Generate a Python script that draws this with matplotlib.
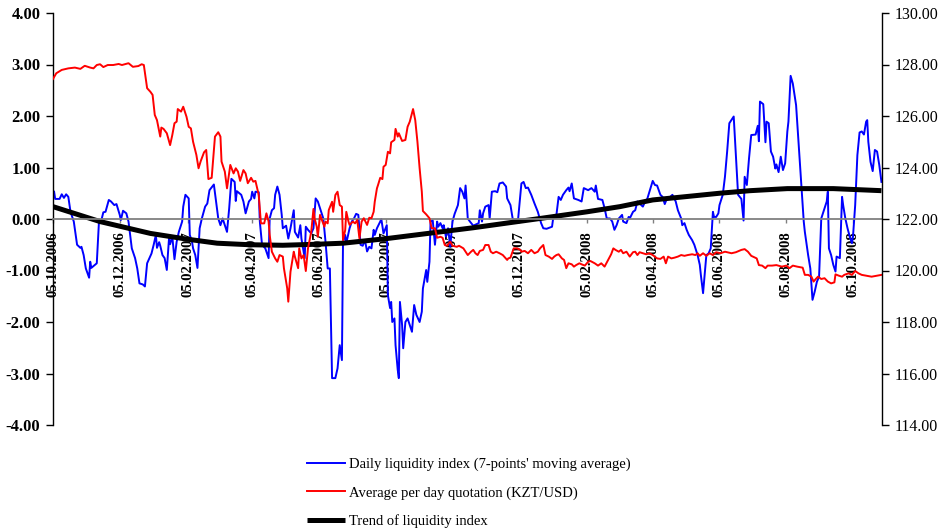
import numpy as np
import pandas as pd
import matplotlib
matplotlib.use('Agg')
import matplotlib.pyplot as plt
from matplotlib.ticker import FormatStrFormatter

# Fecha inicial del eje x; las series se guardan como dias desde esta fecha
start_date = '05.10.2006'

# Indice diario de liquidez (media movil de 7 puntos), eje izquierdo
liq_days = [1, 2, 6, 8, 10, 12, 14, 16, 19, 22, 25, 26, 28, 30, 33, 34, 35, 40, 42, 44,
            46, 48, 51, 53, 56, 58, 61, 62, 64, 67, 69, 72, 75, 77, 79, 82, 84, 86, 90, 92,
            94, 95, 97, 98, 100, 102, 104, 106, 107, 109, 111, 113, 115, 118, 119, 121, 124, 125, 127, 128,
            130, 132, 134, 136, 139, 141, 143, 147, 149, 151, 153, 155, 159, 161, 163, 166, 167, 168, 172, 174,
            176, 179, 181, 182, 184, 185, 188, 189, 191, 194, 197, 198, 200, 202, 203, 205, 207, 209, 210, 213,
            215, 217, 220, 221, 224, 226, 227, 230, 231, 233, 236, 238, 240, 242, 245, 247, 249, 251, 253, 255,
            258, 260, 262, 264, 265, 267, 268, 271, 273, 275, 277, 279, 281, 283, 285, 287, 289, 291, 293, 294,
            296, 299, 300, 302, 305, 306, 308, 309, 310, 312, 313, 315, 316, 317, 319, 320, 322, 324, 326, 328,
            330, 332, 335, 337, 338, 341, 342, 344, 345, 347, 349, 351, 352, 354, 356, 357, 359, 361, 363, 365,
            367, 370, 372, 374, 376, 377, 379, 381, 384, 387, 389, 390, 392, 393, 395, 398, 399, 401, 404, 406,
            408, 411, 414, 415, 418, 420, 422, 425, 428, 430, 432, 434, 437, 440, 443, 446, 448, 451, 456, 457,
            460, 462, 464, 466, 468, 469, 471, 472, 474, 476, 480, 483, 485, 489, 492, 495, 496, 498, 502, 504,
            506, 509, 511, 513, 515, 517, 520, 521, 524, 526, 527, 530, 532, 534, 536, 539, 541, 543, 545, 546,
            548, 550, 552, 555, 557, 559, 561, 564, 566, 569, 571, 574, 575, 577, 579, 581, 584, 586, 588, 589,
            591, 592, 594, 596, 597, 599, 601, 603, 604, 606, 608, 609, 612, 614, 616, 618, 621, 622, 624, 626,
            629, 631, 632, 634, 636, 638, 642, 644, 645, 646, 649, 651, 652, 654, 656, 658, 660, 661, 663, 665,
            667, 669, 671, 672, 674, 676, 679, 681, 683, 686, 687, 690, 692, 694, 696, 698, 700, 702, 705, 707,
            708, 709, 711, 713, 715, 716, 719, 721, 722, 724, 726, 728, 730, 731, 733, 735, 737, 739, 741, 743,
            744, 745, 747, 749, 751, 753, 755, 757]
liq_values = [0.53, 0.39, 0.39, 0.48, 0.41, 0.48, 0.43, 0.14, -0.05, -0.50, -0.56, -0.54, -0.70, -0.96, -1.14, -0.83, -0.95, -0.86, -0.05, -0.04,
              0.13, 0.14, 0.37, 0.34, 0.27, 0.29, 0.08, -0.02, 0.16, 0.11, -0.05, -0.57, -0.76, -0.96, -1.25, -1.27, -1.31, -0.86, -0.67, -0.50,
              -0.31, -0.56, -0.45, -0.52, -0.70, -0.76, -0.99, -0.38, -0.49, -0.34, -0.78, -0.44, -0.25, -0.05, 0.24, 0.47, 0.40, -0.31, -0.44, -0.57,
              -0.70, -0.95, -0.18, 0.01, 0.24, 0.30, 0.56, 0.67, 0.34, 0.01, -0.12, 0.01, -0.25, 0.21, 0.78, 0.72, 0.35, 0.54, 0.47, 0.34,
              0.11, 0.34, 0.39, 0.53, 0.40, 0.53, 0.52, -0.05, -0.50, -0.57, -0.76, 0.01, 0.17, 0.21, 0.47, 0.63, 0.47, 0.08, -0.18, -0.13,
              -0.38, -0.18, 0.17, -0.25, -0.36, -0.12, -0.38, -0.76, -0.15, -0.21, -0.28, -0.18, 0.40, 0.34, 0.14, 0.01, -0.44, -0.96, -0.96, -3.09,
              -3.09, -2.90, -2.45, -2.74, -0.44, -0.31, -0.47, -0.18, -0.05, 0.01, 0.10, 0.08, -0.50, -0.52, -0.41, -0.63, -0.54, -0.57, -0.21, -0.31,
              -0.18, -0.05, 0.00, -0.28, -0.12, -1.48, -1.73, -1.61, -2.00, -1.93, -2.45, -2.93, -3.09, -1.61, -2.06, -2.51, -2.00, -1.93, -2.06, -2.19,
              -1.67, -1.86, -2.00, -1.80, -1.35, -0.99, -1.22, -0.83, -0.05, -0.03, -0.50, -0.05, -0.15, -0.08, -0.18, -0.12, -0.34, -0.18, -0.54, -0.05,
              0.10, 0.27, 0.60, 0.53, 0.40, 0.65, 0.01, -0.05, -0.13, -0.10, -0.08, 0.17, -0.05, 0.11, 0.24, 0.27, 0.01, 0.53, 0.54, 0.52,
              0.69, 0.71, 0.63, 0.40, 0.27, 0.01, -0.02, 0.00, 0.69, 0.72, 0.60, 0.61, 0.47, 0.30, 0.14, -0.08, -0.18, -0.19, -0.15, 0.01,
              0.08, 0.43, 0.37, 0.47, 0.53, 0.56, 0.61, 0.54, 0.69, 0.40, 0.37, 0.34, 0.60, 0.56, 0.60, 0.53, 0.65, 0.39, 0.37, 0.21,
              0.01, 0.01, -0.05, -0.21, -0.12, 0.01, 0.08, -0.05, -0.08, 0.04, 0.01, 0.14, 0.17, 0.34, 0.30, 0.24, 0.34, 0.39, 0.53, 0.60,
              0.74, 0.66, 0.65, 0.47, 0.43, 0.29, 0.40, 0.43, 0.47, 0.34, 0.17, 0.01, -0.12, -0.08, -0.21, -0.31, -0.41, -0.50, -0.63, -0.70,
              -0.89, -1.09, -1.44, -0.96, -0.70, -0.67, -0.57, 0.14, 0.04, 0.04, 0.11, 0.27, 0.47, 0.82, 1.31, 1.86, 1.96, 1.99, 1.24, 0.47,
              0.39, -0.03, 0.82, 0.66, 1.18, 1.63, 1.64, 1.81, 1.51, 2.28, 2.23, 1.49, 1.89, 1.86, 1.31, 1.21, 0.98, 1.06, 0.91, 1.21,
              0.95, 1.08, 1.70, 1.89, 2.78, 2.63, 2.21, 1.57, 0.92, -0.05, -0.25, -0.70, -0.96, -1.57, -1.41, -1.22, -1.12, 0.01, 0.21, 0.34,
              0.53, -0.57, -0.70, -0.89, -1.02, -0.73, -0.76, 0.43, 0.27, 0.01, -0.18, -0.34, -0.47, -0.34, 0.27, 1.24, 1.68, 1.70, 1.64, 1.89,
              1.92, 1.50, 1.11, 0.93, 1.34, 1.31, 1.05, 0.72]

# Cotizacion media diaria KZT/USD, eje derecho
rate_days = [0, 3, 8, 14, 20, 25, 29, 34, 37, 40, 43, 46, 50, 55, 60, 63, 69, 73, 78, 81,
             83, 86, 89, 91, 93, 95, 98, 99, 101, 104, 107, 109, 111, 113, 114, 117, 119, 122, 124, 126,
             128, 131, 133, 135, 138, 140, 142, 145, 148, 151, 153, 154, 157, 159, 162, 165, 167, 169, 171, 174,
             176, 178, 181, 183, 185, 188, 190, 193, 195, 197, 198, 200, 203, 205, 207, 210, 211, 214, 215, 217,
             220, 221, 224, 225, 227, 229, 231, 233, 236, 238, 239, 241, 242, 244, 248, 249, 251, 252, 255, 256,
             258, 260, 262, 264, 265, 267, 268, 270, 271, 274, 276, 278, 280, 282, 284, 287, 289, 291, 293, 294,
             296, 297, 299, 301, 302, 304, 306, 308, 309, 312, 313, 315, 316, 319, 322, 324, 326, 328, 329, 331,
             333, 335, 337, 338, 341, 344, 346, 349, 351, 354, 356, 358, 360, 363, 365, 369, 371, 375, 377, 379,
             382, 384, 386, 388, 390, 393, 395, 398, 400, 402, 405, 408, 411, 415, 416, 418, 421, 424, 427, 428,
             431, 434, 437, 440, 443, 445, 448, 450, 453, 456, 458, 460, 462, 465, 467, 469, 471, 474, 476, 478,
             481, 483, 486, 489, 491, 495, 498, 501, 504, 508, 510, 512, 514, 517, 519, 521, 524, 527, 530, 532,
             534, 536, 539, 542, 545, 548, 552, 555, 558, 560, 562, 565, 568, 571, 574, 577, 580, 584, 587, 589,
             591, 594, 597, 600, 603, 606, 610, 614, 620, 624, 629, 632, 635, 638, 643, 645, 648, 651, 653, 657,
             661, 666, 670, 673, 676, 680, 685, 687, 690, 693, 695, 697, 699, 702, 705, 708, 711, 714, 715, 718,
             721, 723, 727, 730, 733, 736, 739, 743, 748, 753, 757]
rate_values = [127.44, 127.66, 127.79, 127.85, 127.88, 127.83, 127.95, 127.88, 127.85, 127.98, 128.01, 127.90, 127.98, 127.98, 128.02, 127.98, 128.05, 127.91, 127.94, 128.01,
               127.98, 127.08, 126.94, 126.82, 126.04, 125.84, 125.20, 125.55, 125.50, 125.33, 124.87, 125.26, 125.72, 125.78, 126.27, 126.17, 126.36, 125.97, 125.58, 125.52,
               125.00, 124.49, 123.97, 124.25, 124.59, 124.68, 123.55, 123.60, 125.20, 125.37, 125.20, 124.23, 123.84, 123.19, 124.10, 123.77, 123.97, 123.84, 123.48, 123.90,
               123.77, 123.39, 123.60, 123.45, 123.48, 122.93, 121.83, 121.83, 122.22, 121.90, 121.38, 120.73, 120.47, 120.34, 120.60, 120.54, 120.09, 119.31, 118.79, 119.95,
               120.73, 120.54, 120.09, 120.86, 120.47, 120.60, 119.98, 120.86, 121.51, 122.39, 122.03, 121.70, 121.31, 122.16, 121.70, 121.90, 121.83, 122.35, 122.67, 122.28,
               122.93, 123.06, 122.54, 122.48, 121.18, 121.57, 122.28, 121.90, 121.77, 121.90, 121.83, 121.96, 121.25, 121.90, 122.03, 121.77, 122.05, 122.03, 122.28, 122.67,
               123.19, 123.32, 123.60, 123.55, 124.03, 124.10, 124.61, 124.55, 124.98, 125.07, 125.50, 125.20, 125.33, 125.03, 125.07, 125.58, 125.78, 126.10, 126.27, 125.84,
               125.00, 123.97, 123.06, 122.31, 122.18, 122.03, 121.64, 121.64, 121.27, 121.31, 121.27, 120.99, 120.96, 121.12, 120.96, 120.92, 120.96, 120.86, 120.73, 120.60,
               120.73, 120.80, 120.67, 120.60, 120.76, 120.80, 120.99, 120.99, 120.73, 120.67, 120.73, 120.67, 120.60, 120.41, 120.47, 120.50, 120.86, 120.86, 120.80, 120.73,
               120.76, 120.67, 120.80, 120.67, 120.73, 120.86, 120.99, 120.60, 120.54, 120.45, 120.54, 120.60, 120.63, 120.47, 120.41, 120.09, 120.28, 120.24, 120.15, 120.21,
               120.28, 120.24, 120.19, 120.34, 120.37, 120.28, 120.19, 120.28, 120.15, 120.47, 120.63, 120.86, 120.80, 120.73, 120.80, 120.67, 120.73, 120.54, 120.71, 120.73,
               120.60, 120.71, 120.67, 120.63, 120.67, 120.60, 120.47, 120.45, 120.54, 120.28, 120.54, 120.47, 120.50, 120.54, 120.60, 120.57, 120.60, 120.63, 120.60, 120.67,
               120.57, 120.67, 120.57, 120.67, 120.60, 120.71, 120.67, 120.73, 120.67, 120.71, 120.80, 120.83, 120.73, 120.57, 120.47, 120.21, 120.19, 120.09, 120.19, 120.19,
               120.21, 120.15, 120.19, 120.09, 120.19, 120.15, 120.11, 119.83, 119.83, 119.76, 119.57, 119.67, 119.76, 119.67, 119.70, 119.57, 119.50, 119.54, 119.85, 119.80,
               119.76, 119.83, 119.89, 119.83, 119.98, 119.89, 119.83, 119.80, 119.76, 119.80, 119.83]

# Tendencia del indice de liquidez
trend_days = [0, 43, 89, 122, 150, 180, 210, 241, 265, 305, 354, 384, 445, 488, 518, 548, 609, 637, 671, 713, 757]
trend_values = [0.24, -0.05, -0.28, -0.39, -0.47, -0.50, -0.51, -0.49, -0.47, -0.38, -0.25, -0.17, 0.01, 0.14, 0.24, 0.37, 0.50, 0.55, 0.59, 0.59, 0.55]

tick_labels = ['05.10.2006', '05.12.2006', '05.02.2007', '05.04.2007', '05.06.2007', '05.08.2007',
               '05.10.2007', '05.12.2007', '05.02.2008', '05.04.2008', '05.06.2008', '05.08.2008',
               '05.10.2008']

series_names = ["Daily liquidity index (7-points' moving average)",
                'Average per day quotation (KZT/USD)',
                'Trend of liquidity index']


def to_dates(days):
    """Convierte dias desde la fecha inicial en fechas."""
    start = pd.to_datetime(start_date, format='%d.%m.%Y')
    return start + pd.to_timedelta(days, unit='D')


plt.rcParams['font.family'] = ['Liberation Serif', 'DejaVu Serif']
plt.rcParams['axes.unicode_minus'] = False

fig = plt.figure(figsize=(9.39, 5.29), dpi=100)
ax = fig.add_axes([53 / 939, 1 - 425 / 529, 829 / 939, 412 / 529])
ax2 = ax.twinx()

# Spines primero: set_position reinicia los ticks
ax.spines['bottom'].set_position(('data', 0))
ax.spines['bottom'].set_color('#808080')
ax.spines['bottom'].set_linewidth(1.3)
ax.spines['top'].set_visible(False)
ax.spines['right'].set_visible(False)
for side in ['top', 'bottom', 'left']:
    ax2.spines[side].set_visible(False)
ax.spines['left'].set_linewidth(1)
ax2.spines['right'].set_linewidth(1)

# Series
line_liq, = ax.plot(to_dates(liq_days), liq_values, color='#0000ff', lw=1.4)
line_trend, = ax.plot(to_dates(trend_days), trend_values, color='black', lw=3.6,
                      solid_capstyle='butt')
line_rate, = ax2.plot(to_dates(rate_days), rate_values, color='#ff0000', lw=1.4)

# Eje izquierdo
ax.set_ylim(-4, 4)
ax.set_yticks(np.arange(-4, 4.01, 1))
ax.yaxis.set_major_formatter(FormatStrFormatter('%.2f'))
ax.tick_params(axis='y', direction='out', length=5, width=1, pad=4, labelsize=12)
for lab in ax.get_yticklabels():
    lab.set_fontweight('bold')

# Eje derecho
ax2.set_ylim(114, 130)
ax2.set_yticks(np.arange(114, 130.01, 2))
ax2.yaxis.set_major_formatter(FormatStrFormatter('%.2f'))
ax2.tick_params(axis='y', direction='out', length=5, width=1, pad=4, labelsize=11.5)

# Eje x sobre la linea del cero
start = to_dates([0])[0]
ax.set_xlim(start, start + pd.Timedelta(days=757.5))
ax.set_xticks(pd.to_datetime(tick_labels, format='%d.%m.%Y'))
ax.set_xticklabels(tick_labels)
ax.tick_params(axis='x', direction='out', length=3, width=1, color='#808080',
               pad=6, labelsize=10.5, labelrotation=90)
for lab in ax.get_xticklabels():
    lab.set_fontweight('bold')
    lab.set_verticalalignment('top')
    lab.set_horizontalalignment('center')

# Leyenda
fig.legend([line_liq, line_rate, line_trend], series_names,
           loc='upper left', bbox_to_anchor=(307 / 939, 1 - 458 / 529),
           frameon=False, fontsize=10.5, handlelength=2.6, handletextpad=0.3,
           labelspacing=1.0, borderpad=0, borderaxespad=0)

fig.savefig('out.png', dpi=100)
